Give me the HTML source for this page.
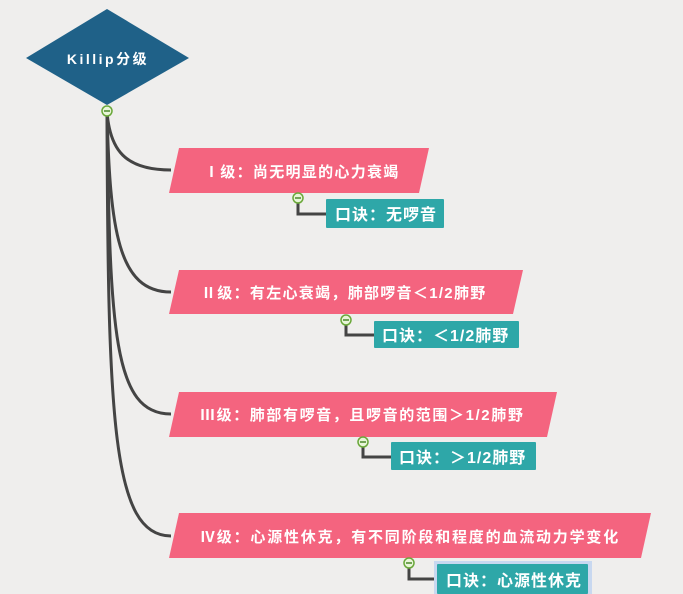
<!DOCTYPE html>
<html><head><meta charset="utf-8"><style>
body{margin:0;width:683px;height:594px;overflow:hidden;background:#efeeed;}
svg{display:block}
text{font-family:"Liberation Sans","Noto Sans CJK SC",sans-serif;font-weight:bold;fill:#fff;}
</style></head><body>
<svg width="683" height="594" xmlns="http://www.w3.org/2000/svg">
<g fill="none" stroke="#444" stroke-width="3">
<path d="M107,112 C110,150 125,170 171,170"/>
<path d="M107,112 C110,230 118,292 171,292"/>
<path d="M107,112 C110,330 113,414 171,414"/>
<path d="M107,112 C108,420 112,536 171,536"/>
<path d="M298,200 V214 H327"/>
<path d="M346,322 V335 H375"/>
<path d="M363,444 V457 H392"/>
<path d="M409,565 V579 H437"/>
</g>
<polygon points="107,9 189,58 107,105 26,58" fill="#1f6188"/>
<text x="108" y="64" font-size="14" text-anchor="middle" letter-spacing="2.5">Killip分级</text>
<g fill="#f4647f">
<polygon points="179,148 429,148 419,193 169,193"/>
<polygon points="179,270 523,270 513,314 169,314"/>
<polygon points="179,392 557,392 547,437 169,437"/>
<polygon points="179,513 651,513 641,558 169,558"/>
</g>
<g font-size="15" letter-spacing="1.3">
<text x="204" y="177">Ⅰ级：尚无明显的心力衰竭</text>
<text x="201" y="298">Ⅱ级：有左心衰竭，肺部啰音＜1/2肺野</text>
<text x="200" y="420" letter-spacing="1.6">Ⅲ级：肺部有啰音，且啰音的范围＞1/2肺野</text>
<text x="200" y="542" letter-spacing="1.8">Ⅳ级：心源性休克，有不同阶段和程度的血流动力学变化</text>
</g>
<rect x="434" y="561" width="158" height="33" fill="#c8d8f0"/>
<g fill="#2ea7a8">
<rect x="326" y="199" width="118" height="29" rx="1"/>
<rect x="374" y="321" width="145" height="27" rx="1"/>
<rect x="391" y="442" width="145" height="28" rx="1"/>
<rect x="437" y="564" width="151" height="30" rx="1"/>
</g>
<g font-size="16" font-weight="normal" letter-spacing="1">
<text x="335" y="220">口诀：无啰音</text>
<text x="382" y="341">口诀：＜1/2肺野</text>
<text x="399" y="463">口诀：＞1/2肺野</text>
<text x="446" y="586">口诀：心源性休克</text>
</g>
<g fill="#e8f5d8" stroke="#6aa83a" stroke-width="1.5">
<circle cx="107" cy="111" r="5"/>
<circle cx="298" cy="198" r="5"/>
<circle cx="346" cy="320" r="5"/>
<circle cx="363" cy="442" r="5"/>
<circle cx="409" cy="563" r="5"/>
</g>
<g stroke="#4a8a2a" stroke-width="1.5">
<path d="M104,111H110M295,198H301M343,320H349M360,442H366M406,563H412"/>
</g>
</svg>
</body></html>
